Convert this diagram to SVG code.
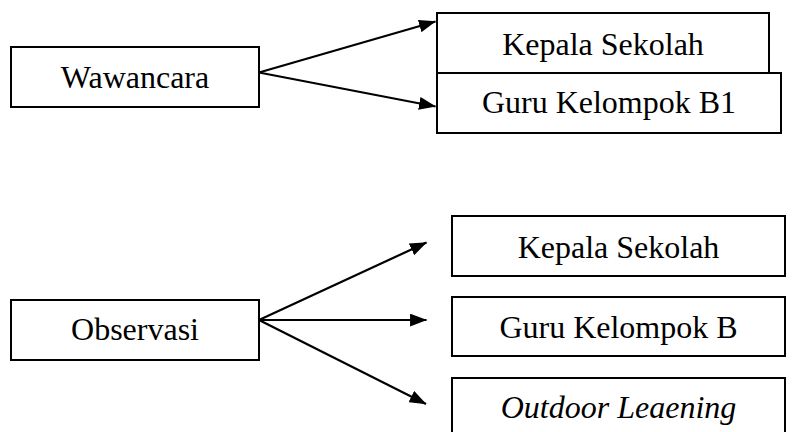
<svg xmlns="http://www.w3.org/2000/svg" width="792" height="432" viewBox="0 0 792 432">
<style>
.box{fill:#fff;stroke:#000;stroke-width:2}
.lbl{font-family:"Liberation Serif","Times New Roman",serif;font-size:32px;fill:#000;text-anchor:middle}
.it{font-style:italic}
.con{stroke:#000;stroke-width:2.2;fill:none}
</style>
<defs>
<marker id="ah" markerUnits="userSpaceOnUse" markerWidth="17" markerHeight="13" viewBox="0 0 16 12" refX="15.5" refY="6" orient="auto">
<path d="M0,0 L16,6 L0,12 z" fill="#000"/>
</marker>
</defs>
<rect width="792" height="432" fill="#fff"/>
<g id="wawancara">
<rect class="box" x="11" y="47" width="248" height="60"/>
<text class="lbl" x="135" y="88">Wawancara</text>
</g>
<g id="kepala1">
<rect class="box" x="437" y="13" width="332" height="60"/>
<text class="lbl" x="603" y="55">Kepala Sekolah</text>
</g>
<g id="guru1">
<rect class="box" x="437" y="73" width="344" height="60"/>
<text class="lbl" x="609" y="113">Guru Kelompok B1</text>
</g>
<g id="observasi">
<rect class="box" x="11" y="300" width="248" height="60"/>
<text class="lbl" x="135" y="340">Observasi</text>
</g>
<g id="kepala2">
<rect class="box" x="452" y="216" width="333" height="60"/>
<text class="lbl" x="618.5" y="258">Kepala Sekolah</text>
</g>
<g id="guru2">
<rect class="box" x="452" y="297" width="333" height="59"/>
<text class="lbl" x="618.5" y="338">Guru Kelompok B</text>
</g>
<g id="outdoor">
<rect class="box" x="452" y="378" width="333" height="70"/>
<text class="lbl it" x="618.5" y="418">Outdoor Leaening</text>
</g>
<g id="connectors">
<line class="con" x1="259" y1="72.5" x2="435.5" y2="21.5" marker-end="url(#ah)"/>
<line class="con" x1="259" y1="72.5" x2="435.5" y2="106.5" marker-end="url(#ah)"/>
<line class="con" x1="259" y1="320" x2="426.5" y2="242.5" marker-end="url(#ah)"/>
<line class="con" x1="259" y1="320" x2="426.5" y2="320" marker-end="url(#ah)"/>
<line class="con" x1="259" y1="320" x2="426" y2="404" marker-end="url(#ah)"/>
</g>
</svg>
